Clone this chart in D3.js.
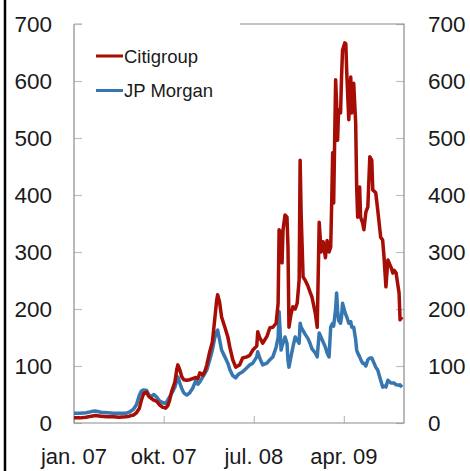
<!DOCTYPE html>
<html>
<head>
<meta charset="utf-8">
<script src="https://cdn.jsdelivr.net/npm/d3@7"></script>
<style>
  body { margin: 0; background: #fff; }
  svg text { font-family: "Liberation Sans", Arial, sans-serif; fill: #1a1a1a; }
</style>
</head>
<body>
<div class="chart"></div>
<script>
// dates of the samples
const dates = [
  "2007-01-01","2007-01-19","2007-02-07","2007-02-23","2007-03-07","2007-03-24","2007-04-13","2007-05-01",
  "2007-05-18","2007-06-07","2007-06-18","2007-07-01","2007-07-10","2007-07-19","2007-07-25","2007-08-01",
  "2007-08-10","2007-08-16","2007-08-22","2007-09-01","2007-09-10","2007-09-18","2007-09-27","2007-10-07",
  "2007-10-13","2007-10-19","2007-10-25","2007-11-04","2007-11-10","2007-11-13","2007-11-19","2007-11-25",
  "2007-12-01","2007-12-10","2007-12-19","2007-12-28","2008-01-07","2008-01-13","2008-01-19","2008-01-28",
  "2008-02-04","2008-02-09","2008-02-18","2008-02-26","2008-03-04","2008-03-10","2008-03-13","2008-03-19",
  "2008-03-25","2008-04-04","2008-04-13","2008-04-19","2008-04-28","2008-05-07","2008-05-13","2008-05-19",
  "2008-05-28","2008-06-10","2008-06-19","2008-06-28","2008-07-10","2008-07-13","2008-07-19","2008-07-28",
  "2008-08-10","2008-08-19","2008-08-28","2008-09-07","2008-09-13","2008-09-16","2008-09-22","2008-09-25",
  "2008-09-28","2008-10-04","2008-10-10","2008-10-13","2008-10-16","2008-10-22","2008-10-28","2008-11-04",
  "2008-11-10","2008-11-16","2008-11-19","2008-11-22","2008-11-28","2008-12-04","2008-12-13","2008-12-19",
  "2008-12-25","2009-01-04","2009-01-10","2009-01-16","2009-01-22","2009-01-28","2009-02-04","2009-02-09",
  "2009-02-15","2009-02-20","2009-02-23","2009-02-26","2009-03-01","2009-03-07","2009-03-10","2009-03-13",
  "2009-03-16","2009-03-22","2009-03-25","2009-03-28","2009-04-04","2009-04-07","2009-04-10","2009-04-16",
  "2009-04-22","2009-04-25","2009-05-01","2009-05-07","2009-05-10","2009-05-13","2009-05-19","2009-05-22",
  "2009-05-28","2009-06-01","2009-06-07","2009-06-13","2009-06-19","2009-06-25","2009-06-28","2009-07-07",
  "2009-07-13","2009-07-22","2009-07-28","2009-08-01","2009-08-07","2009-08-13","2009-08-22","2009-08-28",
  "2009-09-01","2009-09-07","2009-09-10","2009-09-16","2009-09-19","2009-09-25"
]

const citigroup = [
  9, 9, 10, 12, 13, 12, 11, 11,
  10, 11, 12, 14, 18, 26, 40, 52,
  54, 47, 44, 40, 38, 32, 28, 26,
  30, 40, 55, 72, 95, 102, 93, 81,
  76, 75, 76, 78, 80, 78, 88, 84,
  92, 102, 125, 142, 181, 215, 225, 212,
  186, 168, 151, 133, 111, 98, 100, 102,
  114, 116, 119, 128, 135, 160, 150, 140,
  152, 167, 168, 175, 210, 339, 333, 281,
  339, 365, 361, 309, 168, 190, 204, 200,
  210, 251, 461, 368, 256, 251, 240, 230,
  221, 193, 168, 352, 300, 318, 290, 320,
  300, 309, 386, 474, 386, 602, 560, 496,
  549, 544, 607, 654, 667, 665, 612, 532,
  607, 544, 596, 526, 414, 361, 414, 361,
  351, 339, 370, 379, 467, 461, 409, 404,
  374, 326, 321, 293, 239, 286, 274, 263,
  268, 263, 251, 228, 181, 186
]

const jpMorgan = [
  17, 17, 18, 20, 21, 19, 18, 17,
  17, 17, 19, 24, 32, 49, 56, 58,
  57, 50, 46, 50, 45, 39, 36, 34,
  40, 46, 52, 63, 75, 81, 70, 60,
  53, 49, 53, 61, 75, 68, 72, 81,
  88, 93, 111, 128, 149, 160, 163, 146,
  128, 116, 105, 94, 83, 79, 84, 87,
  90, 97, 102, 105, 116, 125, 114, 102,
  105, 111, 116, 133, 150, 195, 128, 135,
  140, 151, 140, 110, 98, 116, 133, 151,
  145, 140, 175, 168, 162, 156, 148, 140,
  130, 123, 116, 158, 150, 142, 133, 123,
  116, 168, 172, 175, 170, 200, 228, 198,
  180, 175, 186, 210, 195, 190, 186, 175,
  178, 168, 168, 146, 128, 123, 116, 112,
  105, 105, 100, 111, 114, 114, 110, 98,
  93, 75, 63, 65, 63, 75, 70, 70,
  70, 67, 67, 66, 67, 63
]

const yTicks = [0, 100, 200, 300, 400, 500, 600, 700]
const xTicks = ["2007-01-01", "2007-10-01", "2008-07-01", "2009-04-01"]
const xTickLabels = ["jan. 07", "okt. 07", "jul. 08", "apr. 09"]
const seriesNames = ["Citigroup", "JP Morgan"]
const seriesColors = ["#a50d05", "#3777b0"]

const W = 470, H = 471
const margin = { left: 74, right: 66, top: 24, bottom: 48 }
const parse = d3.timeParse("%Y-%m-%d")

const svg = d3.select(".chart").append("svg")
    .attr("width", W)
    .attr("height", H)

const x = d3.scaleTime()
    .domain([parse("2007-01-01"), parse("2009-10-01")])
    .range([margin.left, W - margin.right])
const y = d3.scaleLinear()
    .domain([0, 700])
    .range([H - margin.bottom, margin.top])

// black bar on the left edge
svg.append("line")
    .attr("x1", 5).attr("x2", 5)
    .attr("y1", 0).attr("y2", H)
    .attr("stroke", "#000")
    .attr("stroke-width", 2.5)

const tickColor = "#bdbdbd"
const frameColor = "#8c8c8c"

// left and right axes, ticks pointing inside
const leftAxis = svg.append("g")
    .attr("transform", `translate(${margin.left},0)`)
    .call(d3.axisRight(y).tickValues(yTicks).tickSize(8).tickFormat(""))
const rightAxis = svg.append("g")
    .attr("transform", `translate(${W - margin.right},0)`)
    .call(d3.axisLeft(y).tickValues(yTicks).tickSize(8).tickFormat(""))
const bottomAxis = svg.append("g")
    .attr("transform", `translate(0,${H - margin.bottom})`)
    .call(d3.axisTop(x).tickValues(xTicks.map(parse)).tickSize(7).tickFormat(""))

;[leftAxis, rightAxis, bottomAxis].forEach(g => {
    g.select(".domain").remove()
    g.selectAll("line").attr("stroke", tickColor).attr("stroke-width", 1.2)
})

// y labels on both sides
svg.append("g").selectAll("text")
    .data(yTicks)
    .enter()
    .append("text")
    .attr("x", 52)
    .attr("y", d => y(d))
    .attr("dy", "0.36em")
    .attr("text-anchor", "end")
    .attr("font-size", 22.5)
    .text(d => d)
svg.append("g").selectAll("text")
    .data(yTicks)
    .enter()
    .append("text")
    .attr("x", 428)
    .attr("y", d => y(d))
    .attr("dy", "0.36em")
    .attr("text-anchor", "start")
    .attr("font-size", 22.5)
    .text(d => d)

// x labels
svg.append("g").selectAll("text")
    .data(xTicks)
    .enter()
    .append("text")
    .attr("x", d => x(parse(d)))
    .attr("y", 464)
    .attr("text-anchor", "middle")
    .attr("font-size", 22)
    .text((d, i) => xTickLabels[i])

// plot frame (the legend box hides the top-left part of the top edge)
const frame = svg.append("g")
    .attr("fill", "none")
    .attr("stroke", frameColor)
    .attr("stroke-width", 1.2)
frame.append("path")
    .attr("d", `M${margin.left},${margin.top}V${H - margin.bottom}H${W - margin.right}V${margin.top}H240`)
frame.append("path")
    .attr("d", `M${margin.left},${margin.top}H${margin.left + 8}`)
    .attr("stroke", tickColor)

// series
const series = [citigroup, jpMorgan]
const line = d3.line()
    .x((d, i) => x(parse(dates[i])))
    .y(d => y(d))

svg.append("g").selectAll("path")
    .data(series.slice().reverse())
    .enter()
    .append("path")
    .attr("d", d => line(d))
    .attr("fill", "none")
    .attr("stroke", (d, i) => seriesColors[1 - i])
    .attr("stroke-width", 3.5)
    .attr("stroke-linejoin", "round")

// legend
const legend = svg.append("g")
legend.selectAll("line")
    .data(seriesNames)
    .enter()
    .append("line")
    .attr("x1", 96).attr("x2", 123)
    .attr("y1", (d, i) => 56 + i * 34.5)
    .attr("y2", (d, i) => 56 + i * 34.5)
    .attr("stroke", (d, i) => seriesColors[i])
    .attr("stroke-width", 3)
legend.selectAll("text")
    .data(seriesNames)
    .enter()
    .append("text")
    .attr("x", 124)
    .attr("y", (d, i) => 56 + i * 34.5)
    .attr("dy", "0.36em")
    .attr("font-size", 18.5)
    .text(d => d)
</script>
</body>
</html>
